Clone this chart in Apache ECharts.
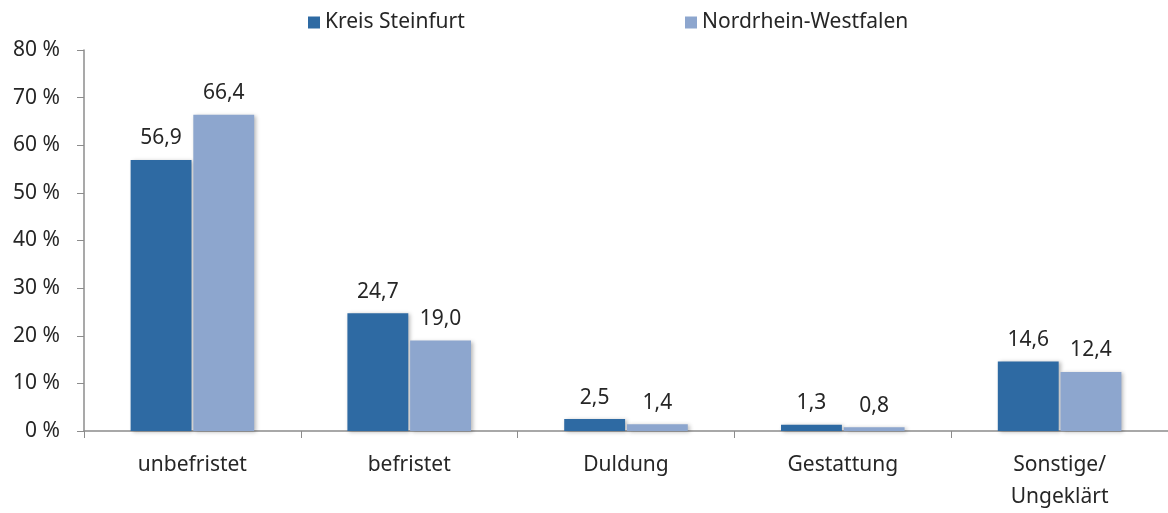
<!DOCTYPE html>
<html>
<head>
<meta charset="utf-8">
<script src="https://cdn.jsdelivr.net/npm/echarts@6/dist/echarts.min.js"></script>
<style>
  html, body { margin: 0; padding: 0; background: #fff; }
  #chart { width: 1168px; height: 513px; }
</style>
</head>
<body>
<div id="chart"></div>
<script>
var categories = ['unbefristet', 'befristet', 'Duldung', 'Gestattung', 'Sonstige/\nUngeklärt'];
var seriesNames = ['Kreis Steinfurt', 'Nordrhein-Westfalen'];
var steinfurt = [56.9, 24.7, 2.5, 1.3, 14.6];
var nrw = [66.4, 19.0, 1.4, 0.8, 12.4];

var FONT = 'Noto Sans';
var FS = 21;
var TEXT = '#262626';
var AXIS = '#8c8c8c';

function fmt(p) {
    return p.value.toFixed(1).replace('.', ',');
}

function barSeries(name, data, color) {
    return {
        name: name,
        type: 'bar',
        data: data,
        barGap: '3%',
        barCategoryGap: '43%',
        itemStyle: {
            color: color,
            shadowColor: 'rgba(0,0,0,0.28)',
            shadowBlur: 4,
            shadowOffsetX: 2,
            shadowOffsetY: 1
        },
        label: {
            show: true,
            position: 'top',
            distance: 11,
            formatter: fmt,
            fontFamily: FONT,
            fontSize: FS,
            color: TEXT
        }
    };
}

var myChart = echarts.init(document.getElementById('chart'));
var option = {
    animation: false,
    legend: [
        {
            data: [seriesNames[0]],
            left: 303,
            top: 7,
            icon: 'rect',
            itemWidth: 12,
            itemHeight: 12,
            itemGap: 8,
            textStyle: {fontFamily: FONT, fontSize: FS, color: TEXT}
        },
        {
            data: [seriesNames[1]],
            left: 680,
            top: 7,
            icon: 'rect',
            itemWidth: 12,
            itemHeight: 12,
            itemGap: 8,
            textStyle: {fontFamily: FONT, fontSize: FS, color: TEXT}
        }
    ],
    grid: {
        left: 84,
        top: 50,
        width: 1091,
        bottom: 78,
        containLabel: false
    },
    xAxis: {
        type: 'category',
        data: categories,
        axisLine: {lineStyle: {color: AXIS, width: 1.5}},
        axisTick: {show: true, length: 7, lineStyle: {color: AXIS}},
        axisLabel: {
            margin: 18,
            fontFamily: FONT,
            fontSize: FS,
            color: TEXT,
            lineHeight: 32,
            verticalAlign: 'top'
        }
    },
    yAxis: {
        type: 'value',
        min: 0,
        max: 80,
        interval: 10,
        axisLine: {show: true, lineStyle: {color: AXIS, width: 1.5}},
        axisTick: {show: true, length: 7, lineStyle: {color: AXIS}},
        splitLine: {show: false},
        axisLabel: {
            margin: 24,
            formatter: '{value} %',
            fontFamily: FONT,
            fontSize: FS,
            color: TEXT
        }
    },
    series: [
        barSeries(seriesNames[0], steinfurt, '#2E6AA3'),
        barSeries(seriesNames[1], nrw, '#8DA6CE')
    ]
};
myChart.setOption(option);
</script>
</body>
</html>
